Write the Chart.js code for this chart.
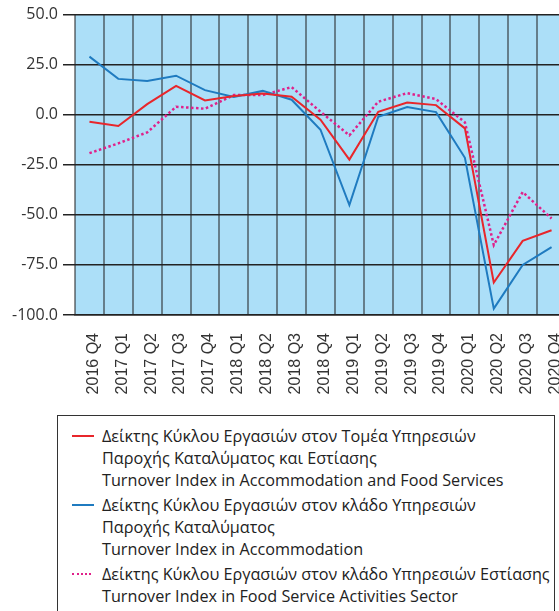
<!DOCTYPE html>
<html lang="el">
<head>
    <meta charset="UTF-8">
    <title>Δείκτης Κύκλου Εργασιών</title>
    <script src="https://cdn.jsdelivr.net/npm/chart.js"></script>
    <style>
        html, body { margin: 0; padding: 0; background: #fff; overflow: hidden; }
        #wrap { position: absolute; left: 0; top: 0; width: 576px; height: 400px; }
        #legenda {
            position: absolute; left: 57px; top: 415px; width: 498px; height: 260px;
            border: 1.5px solid #333; box-sizing: border-box;
            font-family: "Open Sans", sans-serif; font-size: 16.2px; color: #222;
            padding-top: 9px;
        }
        .item { position: relative; padding-left: 44px; line-height: 22px; margin-bottom: 3px; }
        .amostra { position: absolute; left: 14px; top: 10px; width: 22px; height: 0; }
    </style>
</head>
<body>
    <div id="wrap"><canvas id="grafico" width="576" height="400"></canvas></div>
    <div id="legenda"></div>
<script>

// trimestres
const trimestres = ['2016 Q4', '2017 Q1', '2017 Q2', '2017 Q3', '2017 Q4', '2018 Q1', '2018 Q2', '2018 Q3',
    '2018 Q4', '2019 Q1', '2019 Q2', '2019 Q3', '2019 Q4', '2020 Q1', '2020 Q2', '2020 Q3', '2020 Q4'];

// Καταλύματα και Εστίαση
const totalAccomFood = [-3.5, -5.6, 5.3, 14.4, 7.1, 9.4, 10.6, 9.0, -2.5, -22.4, 1.5, 6.1, 4.8, -6.8, -83.8, -63.0, -57.7];
// Καταλύματα
const accommodation = [29.0, 17.9, 16.9, 19.5, 12.3, 8.9, 11.9, 7.5, -7.5, -45.1, -1.0, 3.8, 1.3, -21.5, -96.8, -75.0, -66.1];
// Εστίαση
const foodService = [-19.2, -14.3, -8.8, 4.0, 3.0, 9.8, 9.8, 13.8, 1.5, -10.3, 6.5, 10.8, 7.8, -3.8, -65.1, -38.6, -51.8];

const yTicks = [50, 25, 0, -25, -50, -75, -100];

const labelsLegenda = [
    ['Δείκτης Κύκλου Εργασιών στον Τομέα Υπηρεσιών', 'Παροχής Καταλύματος και Εστίασης', 'Turnover Index in Accommodation and Food Services'],
    ['Δείκτης Κύκλου Εργασιών στον κλάδο Υπηρεσιών', 'Παροχής Καταλύματος', 'Turnover Index in Accommodation'],
    ['Δείκτης Κύκλου Εργασιών στον κλάδο Υπηρεσιών Εστίασης', 'Turnover Index in Food Service Activities Sector']
];

// fundo azul da area do grafico
const fundoPlugin = {
    id: 'fundo',
    beforeDraw(chart) {
        const a = chart.chartArea;
        const ctx = chart.ctx;
        ctx.save();
        ctx.fillStyle = '#acdff8';
        ctx.fillRect(a.left, a.top, a.right - a.left, a.bottom - a.top);
        ctx.restore();
    }
};

const dados = {
    labels: trimestres,
    datasets: [
        { label: labelsLegenda[0], data: totalAccomFood, borderColor: '#e8262b', borderWidth: 2, estilo: 'solid' },
        { label: labelsLegenda[1], data: accommodation, borderColor: '#1f7bc0', borderWidth: 2, estilo: 'solid' },
        { label: labelsLegenda[2], data: foodService, borderColor: '#e0218a', borderWidth: 2.5, borderDash: [2.5, 2.5], estilo: 'dotted' }
    ]
};

const config = {
    type: 'line',
    data: dados,
    options: {
        responsive: false,
        animation: false,
        tension: 0,
        elements: { point: { radius: 0 } },
        layout: { padding: { top: 14, right: 10, left: 0, bottom: 0 } },
        plugins: { legend: { display: false }, tooltip: { enabled: false } },
        scales: {
            x: {
                offset: true,
                grid: { offset: true, color: 'rgba(30,30,30,0.5)', lineWidth: 2, drawTicks: false },
                border: { display: true, color: '#222', width: 1.5 },
                ticks: {
                    minRotation: 90, maxRotation: 90, autoSkip: false, padding: 18, labelOffset: 4,
                    color: '#333', font: { family: '"Liberation Sans", Arial, sans-serif', size: 16 }
                },
                afterFit: function (s) {
                    s.height = 85;
                    s.paddingLeft = 0;
                    s.paddingRight = 0;
                }
            },
            y: {
                min: -100, max: 50,
                afterBuildTicks: function (s) { s.ticks = yTicks.map(v => ({ value: v })); },
                grid: { color: '#222', lineWidth: 1.5, tickLength: 12 },
                border: { display: false },
                ticks: {
                    padding: 5, color: '#333',
                    font: { family: '"Open Sans", sans-serif', size: 16 },
                    callback: v => v.toFixed(1)
                },
                afterFit: function (s) { s.width = 75; }
            }
        }
    },
    plugins: [fundoPlugin]
};

let meuGrafico = new Chart(document.getElementById('grafico'), config);

// legenda em html, montada a partir dos datasets
const legenda = document.getElementById('legenda');
meuGrafico.data.datasets.forEach(ds => {
    const item = document.createElement('div');
    item.className = 'item';
    const amostra = document.createElement('div');
    amostra.className = 'amostra';
    if (ds.estilo === 'dotted') {
        amostra.style.borderTop = '2px dotted ' + ds.borderColor;
        amostra.style.width = '19px';
    } else {
        amostra.style.borderTop = '2px solid ' + ds.borderColor;
    }
    item.appendChild(amostra);
    ds.label.forEach(linha => {
        const l = document.createElement('div');
        l.textContent = linha;
        item.appendChild(l);
    });
    legenda.appendChild(item);
});

</script>
</body>
</html>
